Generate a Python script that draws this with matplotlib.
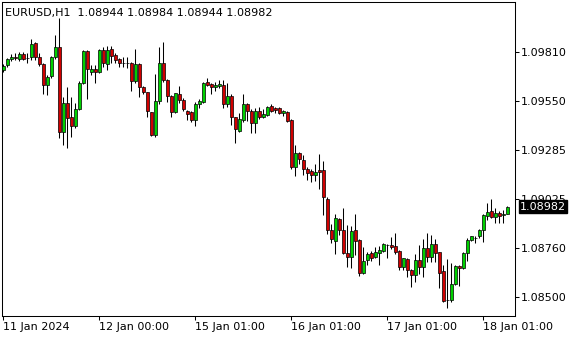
import pandas as pd
import matplotlib
matplotlib.use('Agg')
import matplotlib.pyplot as plt
import matplotlib.transforms as mtransforms

# EURUSD H1 candles, 11 Jan 2024 00:00 .. 18 Jan 2024 07:00
opens = [1.09714, 1.09740, 1.09773, 1.09783, 1.09773, 1.09799, 1.09778, 1.09783, 1.09858, 1.09783,
         1.09746, 1.09634, 1.09682, 1.09783, 1.09837, 1.09382, 1.09537, 1.09462, 1.09414, 1.09505,
         1.09644, 1.09815, 1.09703, 1.09719, 1.09703, 1.09821, 1.09746, 1.09826, 1.09794, 1.09773,
         1.09751, 1.09751, 1.09751, 1.09655, 1.09746, 1.09623, 1.09596, 1.09489, 1.09366, 1.09548,
         1.09751, 1.09660, 1.09575, 1.09489, 1.09585, 1.09553, 1.09494, 1.09489, 1.09446, 1.09532,
         1.09543, 1.09650, 1.09639, 1.09623, 1.09628, 1.09634, 1.09532, 1.09575, 1.09462, 1.09388,
         1.09446, 1.09532, 1.09494, 1.09430, 1.09494, 1.09462, 1.09473, 1.09521, 1.09511, 1.09511,
         1.09484, 1.09489, 1.09446, 1.09195, 1.09270, 1.09232, 1.09184, 1.09174, 1.09152, 1.09179,
         1.09179, 1.09024, 1.08858, 1.08799, 1.08917, 1.08858, 1.08735, 1.08714, 1.08858, 1.08805,
         1.08628, 1.08698, 1.08735, 1.08714, 1.08735, 1.08746, 1.08778, 1.08778, 1.08773, 1.08746,
         1.08660, 1.08703, 1.08644, 1.08618, 1.08698, 1.08660, 1.08762, 1.08714, 1.08783, 1.08741,
         1.08639, 1.08484, 1.08484, 1.08569, 1.08666, 1.08655, 1.08735, 1.08805, 1.08815, 1.08826,
         1.08858, 1.08933, 1.08960, 1.08928, 1.08949, 1.08938, 1.08944]
highs = [1.09746, 1.09778, 1.09799, 1.09805, 1.09810, 1.09810, 1.09805, 1.09879, 1.09863, 1.09805,
         1.09751, 1.09687, 1.09789, 1.09901, 1.09992, 1.09569, 1.09623, 1.09569, 1.09537, 1.09655,
         1.09821, 1.09821, 1.09740, 1.09740, 1.09826, 1.09837, 1.09842, 1.09842, 1.09805, 1.09778,
         1.09783, 1.09783, 1.09756, 1.09826, 1.09751, 1.09628, 1.09596, 1.09489, 1.09692, 1.09837,
         1.09863, 1.09666, 1.09580, 1.09591, 1.09628, 1.09564, 1.09500, 1.09494, 1.09543, 1.09559,
         1.09650, 1.09671, 1.09644, 1.09650, 1.09660, 1.09660, 1.09644, 1.09585, 1.09462, 1.09484,
         1.09585, 1.09537, 1.09505, 1.09511, 1.09516, 1.09505, 1.09521, 1.09532, 1.09516, 1.09516,
         1.09500, 1.09494, 1.09452, 1.09313, 1.09275, 1.09259, 1.09195, 1.09184, 1.09211, 1.09265,
         1.09227, 1.09035, 1.08890, 1.08944, 1.08922, 1.08976, 1.08885, 1.08880, 1.08944, 1.08810,
         1.08767, 1.08741, 1.08746, 1.08767, 1.08773, 1.08789, 1.08783, 1.08821, 1.08842, 1.08751,
         1.08708, 1.08708, 1.08650, 1.08730, 1.08778, 1.08810, 1.08842, 1.08831, 1.08810, 1.08741,
         1.08671, 1.08703, 1.08682, 1.08671, 1.08671, 1.08741, 1.08815, 1.08826, 1.08826, 1.08864,
         1.08944, 1.09003, 1.09024, 1.08976, 1.08960, 1.08965, 1.08984]
lows = [1.09703, 1.09730, 1.09762, 1.09767, 1.09762, 1.09767, 1.09751, 1.09767, 1.09767, 1.09735,
        1.09585, 1.09580, 1.09671, 1.09773, 1.09350, 1.09313, 1.09297, 1.09355, 1.09404, 1.09500,
        1.09639, 1.09559, 1.09687, 1.09644, 1.09698, 1.09730, 1.09714, 1.09751, 1.09751, 1.09730,
        1.09730, 1.09724, 1.09601, 1.09644, 1.09569, 1.09585, 1.09462, 1.09361, 1.09355, 1.09532,
        1.09650, 1.09543, 1.09462, 1.09484, 1.09537, 1.09494, 1.09446, 1.09436, 1.09414, 1.09511,
        1.09537, 1.09628, 1.09585, 1.09601, 1.09617, 1.09511, 1.09516, 1.09420, 1.09323, 1.09382,
        1.09436, 1.09441, 1.09377, 1.09377, 1.09452, 1.09457, 1.09468, 1.09489, 1.09484, 1.09478,
        1.09468, 1.09436, 1.09184, 1.09147, 1.09211, 1.09152, 1.09126, 1.09115, 1.09120, 1.09077,
        1.08938, 1.08837, 1.08789, 1.08730, 1.08831, 1.08730, 1.08660, 1.08655, 1.08725, 1.08612,
        1.08623, 1.08671, 1.08692, 1.08708, 1.08671, 1.08741, 1.08708, 1.08757, 1.08730, 1.08644,
        1.08644, 1.08607, 1.08553, 1.08580, 1.08623, 1.08607, 1.08687, 1.08687, 1.08687, 1.08548,
        1.08473, 1.08441, 1.08473, 1.08564, 1.08559, 1.08650, 1.08692, 1.08799, 1.08789, 1.08815,
        1.08794, 1.08912, 1.08922, 1.08896, 1.08896, 1.08896, 1.08944]
closes = [1.09735, 1.09773, 1.09783, 1.09778, 1.09799, 1.09773, 1.09776, 1.09853, 1.09783, 1.09746,
          1.09634, 1.09676, 1.09783, 1.09837, 1.09382, 1.09537, 1.09457, 1.09414, 1.09505, 1.09644,
          1.09815, 1.09719, 1.09719, 1.09703, 1.09821, 1.09751, 1.09821, 1.09789, 1.09767, 1.09751,
          1.09750, 1.09752, 1.09655, 1.09746, 1.09623, 1.09596, 1.09494, 1.09366, 1.09548, 1.09751,
          1.09660, 1.09575, 1.09489, 1.09591, 1.09553, 1.09505, 1.09478, 1.09446, 1.09532, 1.09548,
          1.09644, 1.09634, 1.09623, 1.09634, 1.09639, 1.09532, 1.09575, 1.09462, 1.09398, 1.09452,
          1.09532, 1.09494, 1.09430, 1.09494, 1.09462, 1.09478, 1.09516, 1.09494, 1.09500, 1.09484,
          1.09494, 1.09441, 1.09195, 1.09270, 1.09238, 1.09184, 1.09163, 1.09152, 1.09168, 1.09168,
          1.09035, 1.08858, 1.08810, 1.08922, 1.08858, 1.08735, 1.08714, 1.08853, 1.08799, 1.08628,
          1.08692, 1.08730, 1.08708, 1.08741, 1.08751, 1.08783, 1.08777, 1.08767, 1.08741, 1.08660,
          1.08708, 1.08644, 1.08618, 1.08698, 1.08660, 1.08762, 1.08714, 1.08783, 1.08735, 1.08628,
          1.08479, 1.08486, 1.08569, 1.08666, 1.08655, 1.08735, 1.08805, 1.08826, 1.08817, 1.08858,
          1.08938, 1.08954, 1.08928, 1.08949, 1.08933, 1.08944, 1.08982]

# hourly bars, weekend gap from Sat 00:00 to Mon 00:00
times = pd.date_range('2024-01-11 00:00', '2024-01-18 07:00', freq='h')
times = times[(times < '2024-01-13 00:00') | (times > '2024-01-15 00:00')]

tick_times = ['2024-01-11 00:00', '2024-01-12 00:00', '2024-01-15 01:00',
              '2024-01-16 01:00', '2024-01-17 01:00', '2024-01-18 01:00']
tick_labels = ['11 Jan 2024', '12 Jan 00:00', '15 Jan 01:00',
               '16 Jan 01:00', '17 Jan 01:00', '18 Jan 01:00']
price_ticks = [1.09810, 1.09550, 1.09285, 1.09025, 1.08760, 1.08500]

df = pd.DataFrame({'open': opens, 'high': highs, 'low': lows, 'close': closes}, index=times)

plt.rcParams['font.family'] = 'DejaVu Sans'
plt.rcParams['font.size'] = 8

fig = plt.figure(figsize=(5.8, 3.4), dpi=100)
ax = fig.add_axes([2 / 580, 24 / 340, 513 / 580, 314 / 340])

x = range(len(df))
up = df.close >= df.open
colors = ['#00d000' if u else '#d00000' for u in up]

ax.vlines(x, df.low, df.high, color='black', linewidth=0.75, zorder=2)
bottoms = df[['open', 'close']].min(axis=1)
heights = (df.close - df.open).abs()
ax.bar(x, heights, bottom=bottoms, width=0.62, color=colors, edgecolor='black',
       linewidth=0.5, zorder=3)

ax.set_xlim(-0.33, 127.9)
ax.set_ylim(1.08398, 1.10077)

ax.yaxis.tick_right()
ax.set_yticks(price_ticks)
ax.set_yticklabels(['%.5f' % p for p in price_ticks])
tick_pos = [times.get_loc(pd.Timestamp(t)) for t in tick_times]
ax.set_xticks(tick_pos)
ax.set_xticklabels(tick_labels, ha='left')
ax.tick_params(axis='both', direction='out', length=3, width=0.75, colors='black', labelsize=8)
ax.tick_params(axis='y', pad=1.5)
ax.tick_params(axis='x', pad=1.5)
for s in ax.spines.values():
    s.set_linewidth(0.75)
    s.set_color('black')

ax.text(0.006, 0.965, 'EURUSD,H1  1.08944 1.08984 1.08944 1.08982', transform=ax.transAxes,
        ha='left', va='center', fontsize=8, color='black')

# current price label, drawn over the 1.09025 tick label like the terminal does
last = df.close.iloc[-1]
trans = mtransforms.blended_transform_factory(ax.transAxes, ax.transData)
ax.annotate('%.5f' % last, xy=(1, last), xycoords=trans, xytext=(3.5, 0),
            textcoords='offset points', ha='left', va='center', color='white', fontsize=8,
            bbox=dict(boxstyle='square,pad=0.12', fc='black', ec='black'),
            annotation_clip=False, zorder=10)

fig.savefig('out.png', dpi=100)
